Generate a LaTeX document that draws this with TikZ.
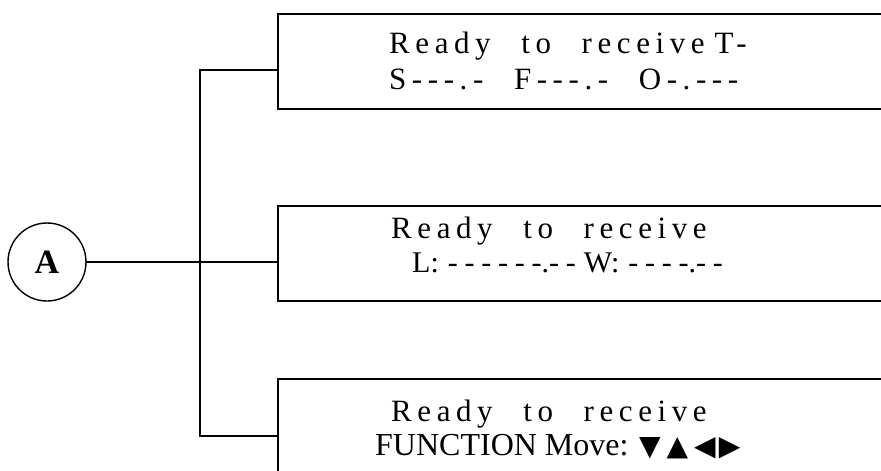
\documentclass[tikz,border=0pt]{standalone}
\usepackage{fontspec}
\setmainfont{Liberation Serif}
\newfontfamily\spacedfont[LetterSpace=18,WordSpace=2.3]{Liberation Serif}
\newfontfamily\dashfont[WordSpace=0.9]{Liberation Serif}
\newfontfamily\symbolfont{DejaVu Sans}
\usetikzlibrary{positioning}
\tikzset{
  every picture/.style={line join=miter, line cap=rect},
  panel/.style={draw, rectangle, line width=1.6pt, minimum width=640pt, minimum height=95pt, anchor=north west, inner sep=0pt},
  spaced/.style={anchor=base west, inner sep=0pt, font=\spacedfont\fontsize{31}{34}\selectfont},
  plain/.style={anchor=base west, inner sep=0pt, font=\fontsize{32}{34}\selectfont},
  dashes/.style={anchor=base west, inner sep=0pt, font=\dashfont\fontsize{30}{34}\selectfont},
  wire/.style={line width=1.5pt},
}

\begin{document}
\begin{tikzpicture}[x=1pt,y=-1pt]
\useasboundingbox (0,0) rectangle (881,471);
\clip (0,0) rectangle (881,471);
% the three display panels
\node[panel] (tsf) at (277,13) {};
\node[panel] (lw) at (277,205) {};
\node[panel] (func) at (277,378) {};
\node[spaced] (tsf1) at (389,53) {Ready to receive\hspace{10pt}T-};
\node[spaced] (tsf2) at (389,89) {S---.- F---.- O-.---};
\node[spaced] (lw1) at (391,238) {Ready to receive};
\node[dashes] (lw2) at (412,272) {L:\hspace{9pt}- - - - - -.- -\hspace{8pt}W:\hspace{9pt}- - - -.- -};
\node[spaced] (func1) at (391,421) {Ready to receive};
\node[plain] (func2) at (375,455) {FUNCTION Move: {\symbolfont\fontsize{28}{30}\selectfont ▼\hspace{6pt}▲\hspace{6pt}◀\hspace{3pt}▶}};
% connector A
\node[draw, circle, line width=1.4pt, minimum size=78pt, inner sep=0pt, font=\bfseries\fontsize{34}{36}\selectfont] (A) at (47,262) {A};
\coordinate (jtop) at (200,70);
\coordinate (jbot) at (200,436);
\draw[wire] (A) -- (A -| lw.west);
\draw[wire] (jtop -| tsf.west) -- (jtop) -- (jbot) -- (jbot -| func.west);
\end{tikzpicture}
\end{document}
